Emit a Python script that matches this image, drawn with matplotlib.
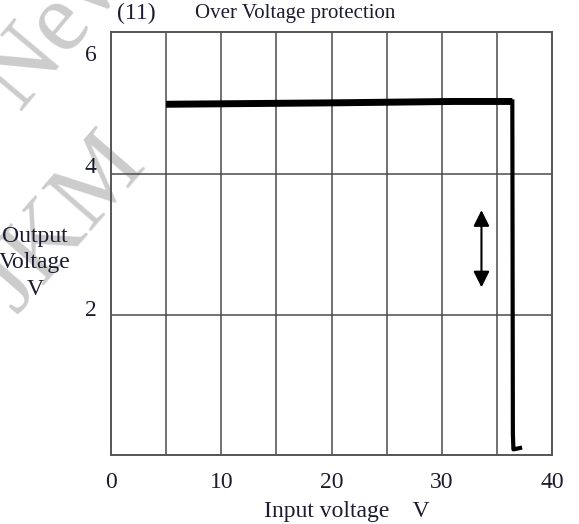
import matplotlib
matplotlib.use("Agg")
import matplotlib.pyplot as plt

# data
vin = [5.0, 20.0, 31.0, 36.4]
vout = [5.0, 5.02, 5.04, 5.04]
drop_x = [36.4, 36.45, 36.5, 37.1]
drop_y = [5.04, 0.3, 0.08, 0.1]
x_ticks = [0, 10, 20, 30, 40]
y_ticks = [2, 4, 6]
arrow_x = 33.6
arrow_lo, arrow_hi = 2.39, 3.49

plt.rcParams['font.family'] = ['Liberation Serif', 'DejaVu Serif']
txt = '#1c1c30'

fig = plt.figure(figsize=(5.79, 5.24), dpi=100)
ax = fig.add_axes([0.1917, 0.1317, 0.7617, 0.8072])

# watermark behind everything
fig.text(0.105, 0.955, 'New', fontsize=72, color='#cccccc', rotation=50,
         rotation_mode='anchor', ha='center', va='center', zorder=-5)
fig.text(0.11, 0.575, 'JKM', fontsize=72, color='#cccccc', rotation=49,
         rotation_mode='anchor', ha='center', va='center', zorder=-5)

ax.set_xlim(0, 40)
ax.set_ylim(0, 6.03)
ax.set_facecolor('none')
for x in range(5, 40, 5):
    ax.axvline(x, color='#4a4a4a', lw=1.1, zorder=1)
for y in [2, 4]:
    ax.axhline(y, color='#4a4a4a', lw=1.1, zorder=1)
for s in ax.spines.values():
    s.set_color('#555555')
    s.set_linewidth(1.4)

ax.plot(vin, vout, color='black', lw=5, solid_capstyle='butt', zorder=3)
ax.plot(drop_x, drop_y, color='black', lw=3, zorder=3)
ax.annotate('', xy=(arrow_x, arrow_hi), xytext=(arrow_x, arrow_lo),
            arrowprops=dict(arrowstyle='<|-|>', color='black', lw=1.5,
                            mutation_scale=24, shrinkA=0, shrinkB=0),
            zorder=3)

ax.set_xticks(x_ticks)
ax.set_xticklabels([str(v) for v in x_ticks], fontsize=17, color=txt)
ax.tick_params(axis='x', length=0, pad=12)
ax.set_yticks(y_ticks)
ax.set_yticklabels([])
ax.tick_params(axis='y', length=0)
for v, off in zip(y_ticks, [0.06, 0.1, -0.3]):
    ax.text(-1.3, v + off, str(v), fontsize=17, color=txt, ha='right',
            va='center')

ax.text(-6.9, 2.74, 'Output\nVoltage\nV', fontsize=17, color=txt,
        ha='center', va='center', linespacing=1.35)
ax.set_xlabel('Input voltage    V', fontsize=17, color=txt, labelpad=6,
              x=0.535)

fig.text(0.202, 0.975, '(11)', fontsize=17, color=txt, ha='left', va='center')
fig.text(0.337, 0.975, 'Over Voltage protection', fontsize=15, color=txt,
         ha='left', va='center')

fig.savefig('out.png', dpi=100)
